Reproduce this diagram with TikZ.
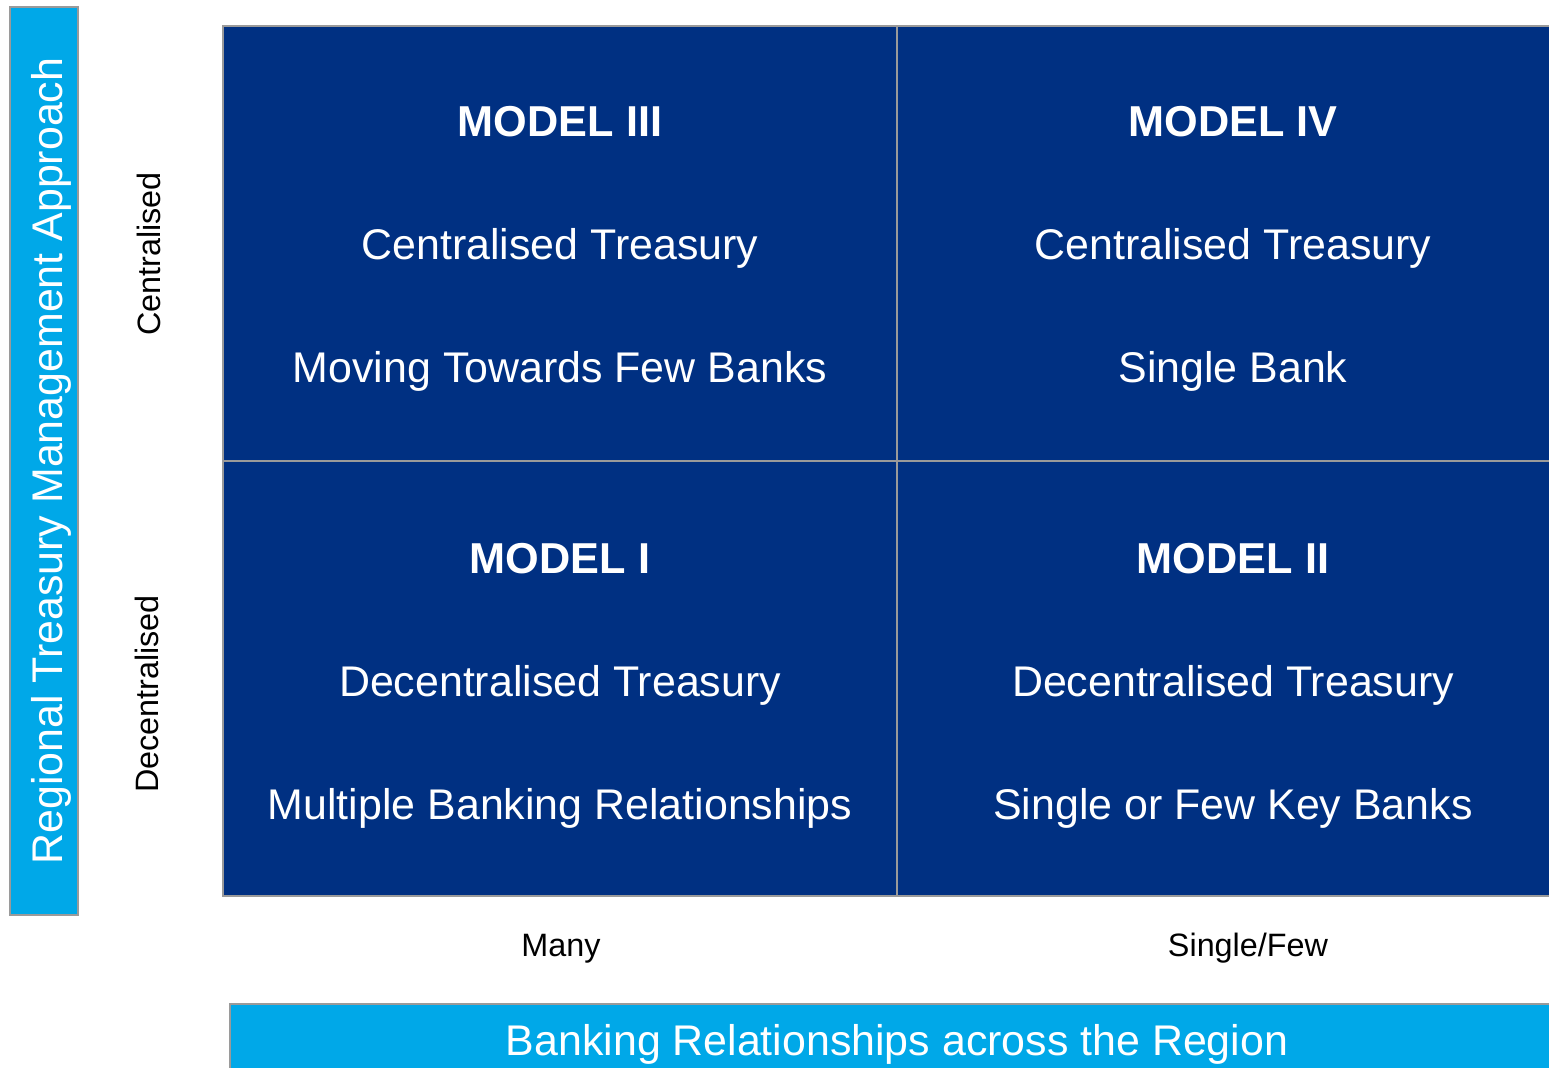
\documentclass[tikz,border=0pt]{standalone}
\usepackage{fontspec}
\setmainfont{Liberation Sans}
\definecolor{modelblue}{HTML}{003082}
\definecolor{axisblue}{HTML}{00A8E8}
\definecolor{edgegray}{HTML}{9A9A9A}
\tikzset{
  cell/.style={fill=modelblue,draw=edgegray,line width=0.45pt},
  axisbar/.style={fill=axisblue,draw=edgegray,line width=0.6pt},
  modeltitle/.style={anchor=base,text=white,font=\fontsize{12.3}{14}\selectfont\bfseries},
  modelline/.style={anchor=base,text=white,font=\fontsize{12.2}{14}\selectfont},
  axistext/.style={anchor=base,text=white,font=\fontsize{12.2}{14}\selectfont},
  ticklabel/.style={anchor=base,font=\fontsize{9.2}{11}\selectfont}
}
\begin{document}
\begin{tikzpicture}[x=0.01cm,y=-0.01cm]
    \useasboundingbox (0,0) rectangle (1549,1067);
    \fill[white] (0,0) rectangle (1549,1067);
    \clip (0,0) rectangle (1549,1067);
    % axis bars
    \draw[axisbar] (10,7) rectangle (78,915);
    \node[axistext,rotate=90] (approach) at (62,461)
      {Regional Treasury Management Approach};
    \draw[axisbar] (230,1004) rectangle (1564,1080);
    \node[axistext] (banking) at (897,1055)
      {Banking Relationships across the Region};
    % quadrants
    \draw[cell] (223,26) rectangle (897,461);
    \draw[cell] (897,26) rectangle (1570,461);
    \draw[cell] (223,461) rectangle (897,896);
    \draw[cell] (897,461) rectangle (1570,896);
    % top row
    \node[modeltitle] (m3) at (560,137) {MODEL III};
    \node[modelline] (m3a) at (560,260) {Centralised Treasury};
    \node[modelline] (m3b) at (560,383) {Moving Towards Few Banks};
    \node[modeltitle] (m4) at (1233,137) {MODEL IV};
    \node[modelline] (m4a) at (1233,260) {Centralised Treasury};
    \node[modelline] (m4b) at (1233,383) {Single Bank};
    % bottom row
    \node[modeltitle] (m1) at (560,573) {MODEL I};
    \node[modelline] (m1a) at (560,696) {Decentralised Treasury};
    \node[modelline] (m1b) at (560,819) {Multiple Banking Relationships};
    \node[modeltitle] (m2) at (1233,573) {MODEL II};
    \node[modelline] (m2a) at (1233,696) {Decentralised Treasury};
    \node[modelline] (m2b) at (1233,819) {Single or Few Key Banks};
    % tick labels
    \node[ticklabel,rotate=90] (central) at (160,254) {Centralised};
    \node[ticklabel,rotate=90] (decentral) at (158,694) {Decentralised};
    \node[ticklabel] (many) at (561,956) {Many};
    \node[ticklabel] (few) at (1248,956) {Single/Few};
\end{tikzpicture}
\end{document}
